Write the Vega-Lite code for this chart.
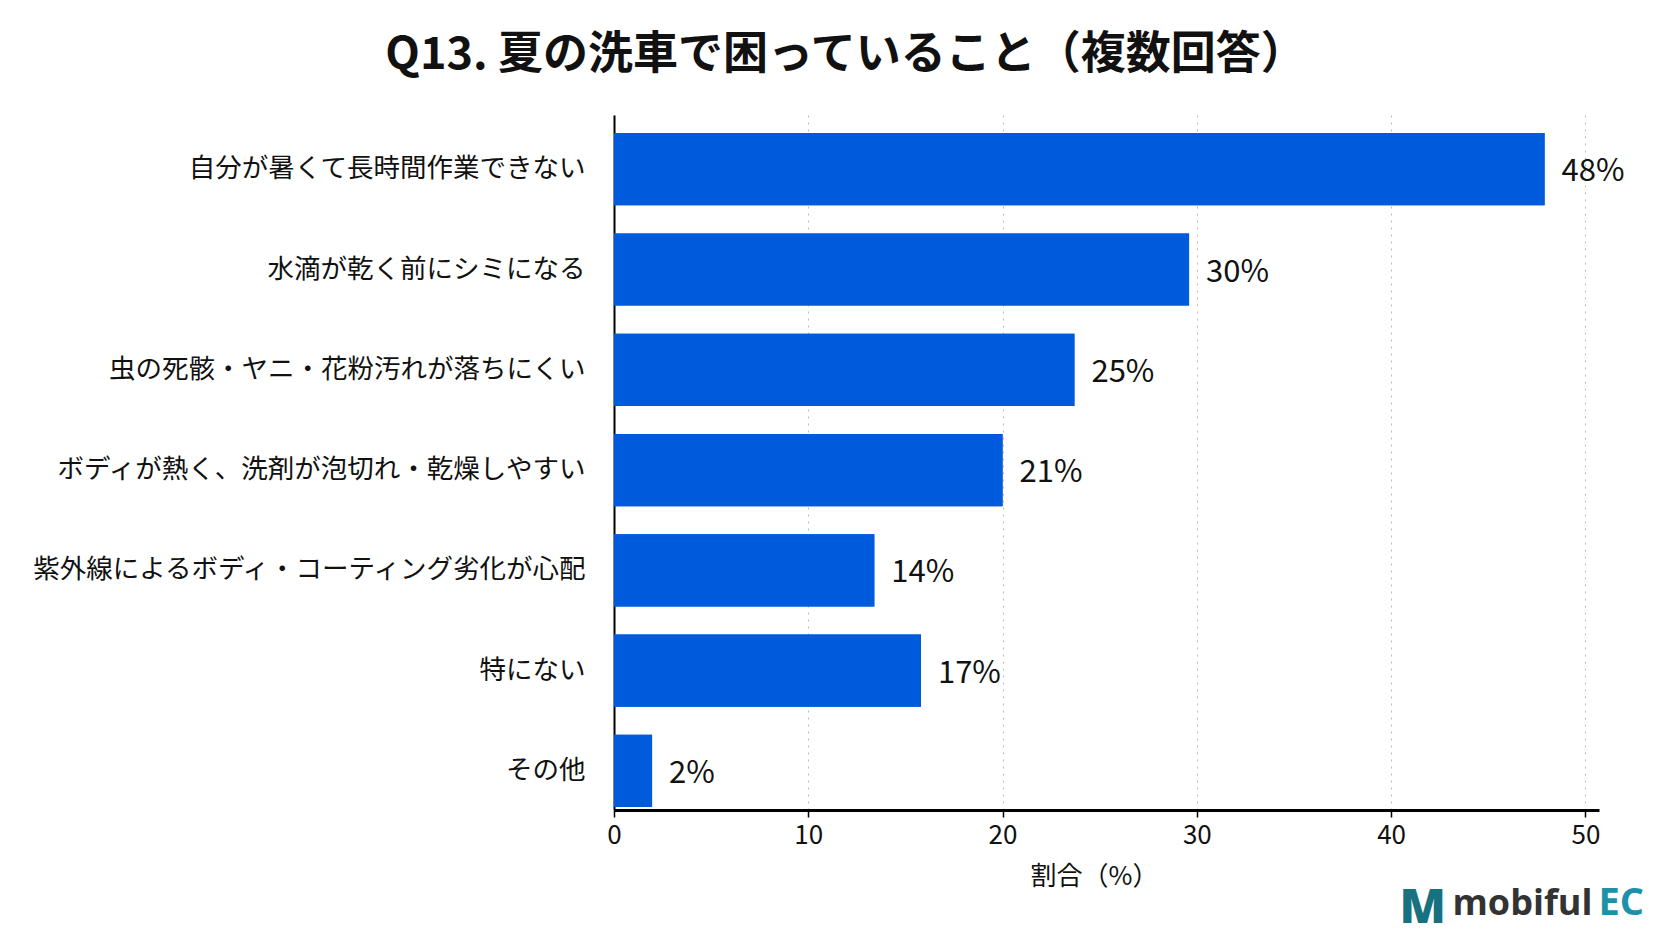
{
  "$schema": "https://vega.github.io/schema/vega-lite/v6.json",
  "width": 985,
  "height": 695,
  "autosize": "none",
  "padding": {"left": 614, "top": 115, "right": 73, "bottom": 131},
  "background": "white",
  "title": {
    "text": "Q13. 夏の洗車で困っていること（複数回答）",
    "font": "Noto Sans CJK JP",
    "fontSize": 45,
    "fontWeight": "bold",
    "color": "#111111",
    "anchor": "middle",
    "dx": -261,
    "dy": 43,
    "baseline": "bottom",
    "offset": 35
  },
  "data": {
    "values": [
      {"item": "自分が暑くて長時間作業できない", "value": 47.9, "label": "48%"},
      {"item": "水滴が乾く前にシミになる", "value": 29.6, "label": "30%"},
      {"item": "虫の死骸・ヤニ・花粉汚れが落ちにくい", "value": 23.7, "label": "25%"},
      {"item": "ボディが熱く、洗剤が泡切れ・乾燥しやすい", "value": 20.0, "label": "21%"},
      {"item": "紫外線によるボディ・コーティング劣化が心配", "value": 13.4, "label": "14%"},
      {"item": "特にない", "value": 15.8, "label": "17%"},
      {"item": "その他", "value": 1.96, "label": "2%"}
    ]
  },
  "layer": [
    {
      "mark": {"type": "bar", "color": "#005ADC"},
      "encoding": {
        "x": {
          "field": "value",
          "type": "quantitative",
          "scale": {"domain": [0, 50.7], "nice": false},
          "axis": {
            "orient": "bottom",
            "values": [0, 10, 20, 30, 40, 50],
            "title": "割合（%）",
            "grid": true,
            "gridDash": [2, 5],
            "gridColor": "#bbbbbb",
            "domainColor": "#000000",
            "domainWidth": 3,
            "tickColor": "#000000",
            "tickSize": 7,
            "tickWidth": 1.5,
            "labelFlush": false,
            "labelFont": "Noto Sans CJK JP",
            "labelFontSize": 26,
            "labelColor": "#111111",
            "labelPadding": 5,
            "titleFont": "Noto Sans CJK JP",
            "titleFontSize": 26,
            "titleFontWeight": "normal",
            "titleColor": "#111111",
            "titlePadding": 15,
            "titleX": 480,
            "titleAlign": "center"
          }
        },
        "y": {
          "field": "item",
          "type": "nominal",
          "sort": null,
          "scale": {"paddingInner": 0.28, "paddingOuter": 0.105, "align": 0.86},
          "axis": {
            "title": null,
            "domainColor": "#000000",
            "domainWidth": 2,
            "ticks": false,
            "grid": false,
            "labelFont": "Noto Sans CJK JP",
            "labelFontSize": 26.5,
            "labelColor": "#111111",
            "labelPadding": 29,
            "labelLimit": 0
          }
        }
      }
    },
    {
      "mark": {
        "type": "text",
        "align": "left",
        "baseline": "middle",
        "dx": 17,
        "dy": 3,
        "font": "Noto Sans CJK JP",
        "fontSize": 31,
        "color": "#111111"
      },
      "encoding": {
        "x": {
          "field": "value",
          "type": "quantitative",
          "scale": {"domain": [0, 50.7], "nice": false},
          "axis": {
            "orient": "bottom",
            "title": "M",
            "labels": false,
            "ticks": false,
            "domain": false,
            "grid": false,
            "titleX": 785,
            "titleY": 112,
            "titleAlign": "left",
            "titleBaseline": "alphabetic",
            "titleFont": "Open Sans",
            "titleFontSize": 48,
            "titleFontWeight": 800,
            "titleColor": "#17717F"
          }
        },
        "y": {
          "field": "item",
          "type": "nominal",
          "sort": null,
          "scale": {"paddingInner": 0.28, "paddingOuter": 0.105, "align": 0.86},
          "axis": {
            "orient": "right",
            "title": "mobiful",
            "labels": false,
            "ticks": false,
            "domain": false,
            "grid": false,
            "titleAngle": 0,
            "titleX": -147,
            "titleY": 799,
            "titleAlign": "left",
            "titleBaseline": "alphabetic",
            "titleFont": "Open Sans",
            "titleFontSize": 36,
            "titleFontWeight": "bold",
            "titleColor": "#333333"
          }
        },
        "text": {"field": "label", "type": "nominal"}
      }
    },
    {
      "mark": {"type": "bar", "color": "#005ADC"},
      "encoding": {
        "x": {
          "field": "value",
          "type": "quantitative",
          "scale": {"domain": [0, 50.7], "nice": false},
          "axis": {
            "orient": "bottom",
            "title": "EC",
            "labels": false,
            "ticks": false,
            "domain": false,
            "grid": false,
            "titleX": 984,
            "titleY": 104,
            "titleAlign": "left",
            "titleBaseline": "alphabetic",
            "titleFont": "Open Sans",
            "titleFontSize": 38,
            "titleFontWeight": "bold",
            "titleColor": "#1B92A8"
          }
        },
        "y": {
          "field": "item",
          "type": "nominal",
          "sort": null,
          "scale": {"paddingInner": 0.28, "paddingOuter": 0.105, "align": 0.86},
          "axis": null
        }
      }
    }
  ],
  "resolve": {"axis": {"x": "independent", "y": "independent"}},
  "config": {"view": {"stroke": null}}
}
